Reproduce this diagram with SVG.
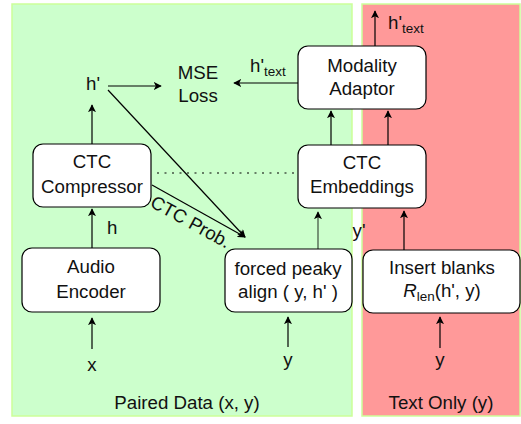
<svg xmlns="http://www.w3.org/2000/svg" width="521" height="424" viewBox="0 0 521 424">
<defs>
<marker id="ah" viewBox="0 0 10 10" refX="9" refY="5" markerWidth="8" markerHeight="8" markerUnits="userSpaceOnUse" orient="auto">
<path d="M0,0 L10,5 L0,10 L2.5,5 Z" fill="#000"/>
</marker>
<style>
text{font-family:"Liberation Sans",Arial,sans-serif;font-size:18.7px;fill:#111;}
.box{fill:#fff;stroke:#000;stroke-width:1.2;}
.c{fill:none;stroke:#000;stroke-width:1.2;}
.m{text-anchor:middle;}
.sub{font-size:13.5px;}
</style>
</defs>
<rect x="12" y="4" width="340" height="412" fill="#ccffcc" stroke="#ccff99" stroke-width="1.5"/>
<rect x="362" y="4" width="158" height="412" fill="#ff9999" stroke="#ccff99" stroke-width="1.5"/>
<text class="m" x="187" y="409">Paired Data (x, y)</text>
<text class="m" x="441" y="409">Text Only (y)</text>

<g id="connectors">
<line class="c" x1="92" y1="349" x2="92" y2="318" marker-end="url(#ah)"/>
<line class="c" x1="92" y1="248" x2="92" y2="209" marker-end="url(#ah)"/>
<line class="c" x1="92" y1="144" x2="92" y2="105" marker-end="url(#ah)"/>
<line class="c" x1="108" y1="86" x2="161" y2="86" marker-end="url(#ah)"/>
<line class="c" x1="298" y1="83" x2="234" y2="83" marker-end="url(#ah)"/>
<line class="c" x1="108" y1="90" x2="245" y2="237" marker-end="url(#ah)"/>
<line class="c" x1="152" y1="185" x2="245" y2="237" marker-end="url(#ah)"/>
<line class="c" x1="157" y1="173" x2="297" y2="173" stroke-dasharray="2 5.5"/>
<line class="c" x1="288" y1="347" x2="288" y2="317" marker-end="url(#ah)"/>
<line class="c" x1="318" y1="249" x2="318" y2="212" stroke-opacity="0.7" marker-end="url(#ah)"/>
<line class="c" x1="331" y1="145" x2="331" y2="111" marker-end="url(#ah)"/>
<line class="c" x1="388" y1="145" x2="388" y2="111" marker-end="url(#ah)"/>
<line class="c" x1="404" y1="250" x2="404" y2="211" marker-end="url(#ah)"/>
<line class="c" x1="440" y1="348" x2="440" y2="317" marker-end="url(#ah)"/>
<line class="c" x1="375" y1="46" x2="375" y2="11" marker-end="url(#ah)"/>
</g>

<text class="m" x="93" y="90">h'</text>
<text class="m" x="198" y="79">MSE</text>
<text class="m" x="198" y="102">Loss</text>
<text x="250" y="72">h'<tspan class="sub" dy="4">text</tspan></text>
<text x="388" y="29">h'<tspan class="sub" dy="4">text</tspan></text>
<text x="107" y="234">h</text>
<text class="m" x="92" y="371">x</text>
<text class="m" x="288" y="366">y</text>
<text class="m" x="440" y="366">y</text>
<text class="m" x="359" y="237">y'</text>
<text x="149" y="206" transform="rotate(29 149 206)">CTC Prob.</text>

<g id="ctc-compressor">
<rect class="box" x="33" y="144" width="118" height="63" rx="10"/>
<text class="m" x="92" y="168">CTC</text>
<text class="m" x="92" y="193">Compressor</text>
</g>
<g id="audio-encoder">
<rect class="box" x="22" y="248" width="138" height="64" rx="10"/>
<text class="m" x="91" y="273">Audio</text>
<text class="m" x="91" y="298">Encoder</text>
</g>
<g id="forced-align">
<rect class="box" x="225" y="249" width="127" height="63" rx="10"/>
<text class="m" x="288" y="275">forced peaky</text>
<text class="m" x="288" y="298">align ( y, h' )</text>
</g>
<g id="ctc-embeddings">
<rect class="box" x="298" y="145" width="128" height="63" rx="10"/>
<text class="m" x="362" y="169">CTC</text>
<text class="m" x="362" y="193">Embeddings</text>
</g>
<g id="modality-adaptor">
<rect class="box" x="298" y="46" width="128" height="63" rx="10"/>
<text class="m" x="362" y="72">Modality</text>
<text class="m" x="362" y="95">Adaptor</text>
</g>
<g id="insert-blanks">
<rect class="box" x="363" y="250" width="157" height="63" rx="10"/>
<text class="m" x="442" y="274">Insert blanks</text>
<text class="m" x="442" y="297"><tspan font-style="italic">R</tspan><tspan class="sub" dy="4">len</tspan><tspan dy="-4">(h', y)</tspan></text>
</g>
</svg>
